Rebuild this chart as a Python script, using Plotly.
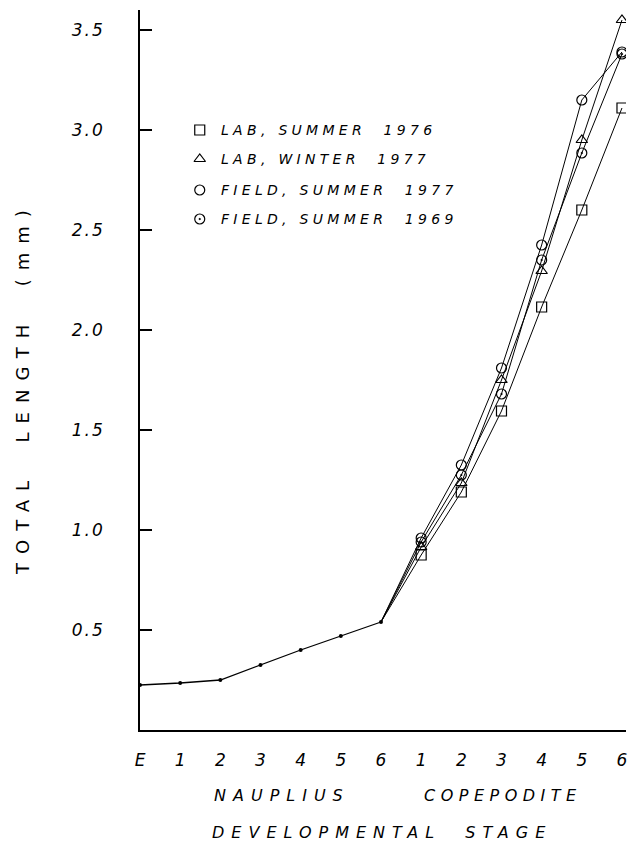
import plotly.graph_objects as go

# ---------------- data ----------------
stage_labels = ["E", "1", "2", "3", "4", "5", "6", "1", "2", "3", "4", "5", "6"]
nauplius_length = [0.225, 0.235, 0.25, 0.325, 0.40, 0.47, 0.54]          # E, N1..N6
lab_summer_1976 = [0.875, 1.19, 1.595, 2.115, 2.60, 3.11]                 # C1..C6
lab_winter_1977 = [0.915, 1.235, 1.75, 2.295, 2.95, 3.55]
field_summer_1977 = [0.96, 1.325, 1.81, 2.425, 3.15, 3.39]
field_summer_1969 = [0.94, 1.275, 1.68, 2.35, 2.885, 3.38]
series_names = ["LAB, SUMMER\u00a0 1976", "LAB, WINTER\u00a0 1977",
                "FIELD, SUMMER\u00a0 1977", "FIELD, SUMMER\u00a0 1969"]
series_values = [lab_summer_1976, lab_winter_1977, field_summer_1977, field_summer_1969]
series_symbols = ["square-open", "triangle-up-open", "circle-open", "circle-open-dot"]
y_ticks = [0.5, 1.0, 1.5, 2.0, 2.5, 3.0, 3.5]

# ---------------- geometry ----------------
W, H = 638, 846
L, R, T, B = 140, 10, 10, 116
plot_w = W - L - R
plot_h = H - T - B
X_MAX = 12.1
Y_MAX = 3.6
FONT = "DejaVu Sans"


def px_x(px):
    return (px - L) / plot_w


def px_y(py):
    return (H - B - py) / plot_h


def dx(px):
    return (px - L) / plot_w * X_MAX


def dy(py):
    return (H - B - py) / plot_h * Y_MAX


fig = go.Figure()

# nauplius (common) curve
fig.add_trace(go.Scatter(
    x=list(range(len(nauplius_length))), y=nauplius_length,
    mode="lines+markers",
    line=dict(color="black", width=1.3),
    marker=dict(color="black", size=4),
    showlegend=False, hoverinfo="skip"))

# copepodite series
cop_x = list(range(len(nauplius_length), len(nauplius_length) + 6))
for vals, sym in zip(series_values, series_symbols):
    fig.add_trace(go.Scatter(
        x=[len(nauplius_length) - 1] + cop_x, y=[nauplius_length[-1]] + vals,
        mode="lines", line=dict(color="black", width=1),
        showlegend=False, hoverinfo="skip"))
    fig.add_trace(go.Scatter(
        x=cop_x, y=vals, mode="markers",
        marker=dict(symbol=sym, size=10, color="black",
                    line=dict(color="black", width=1.2)),
        showlegend=False, hoverinfo="skip"))

# hand-drawn style legend
leg_rows = [130, 159, 190, 219]
LEG_MARK_X = 200
LEG_TEXT_X = 219
fig.add_trace(go.Scatter(
    x=[dx(LEG_MARK_X)] * 4, y=[dy(r) for r in leg_rows], mode="markers",
    marker=dict(symbol=series_symbols, size=10, color="black",
                line=dict(color="black", width=1.2)),
    showlegend=False, hoverinfo="skip"))

annotations = []
for name, r in zip(series_names, leg_rows):
    annotations.append(dict(text=name, x=px_x(LEG_TEXT_X), y=px_y(r), xref="paper", yref="paper",
                            xanchor="left", yanchor="middle", align="left", showarrow=False,
                            font=dict(family=FONT, size=14, color="black", style="italic")))
annotations.append(dict(text="NAUPLIUS", x=px_x(212), y=px_y(796), xref="paper", yref="paper",
                        xanchor="left", yanchor="middle", align="left", showarrow=False,
                        font=dict(family=FONT, size=16, color="black", style="italic")))
annotations.append(dict(text="COPEPODITE", x=px_x(423), y=px_y(796), xref="paper", yref="paper",
                        xanchor="left", yanchor="middle", align="left", showarrow=False,
                        font=dict(family=FONT, size=16, color="black", style="italic")))
annotations.append(dict(text="DEVELOPMENTAL\u00a0 STAGE", x=px_x(210), y=px_y(832), xref="paper", yref="paper",
                        xanchor="left", yanchor="middle", align="left", showarrow=False,
                        font=dict(family=FONT, size=16, color="black", style="italic")))
annotations.append(dict(text="TOTAL\u00a0 LENGTH\u00a0 (mm)", x=px_x(22), y=px_y(577), xref="paper", yref="paper",
                        xanchor="center", yanchor="bottom", align="left", showarrow=False, textangle=-90,
                        font=dict(family=FONT, size=18, color="black")))

fig.update_layout(
    width=W, height=H,
    margin=dict(l=L, r=R, t=T, b=B),
    paper_bgcolor="white", plot_bgcolor="white",
    showlegend=False,
    annotations=annotations,
    xaxis=dict(range=[0, X_MAX], tickmode="array",
               tickvals=list(range(len(stage_labels))), ticktext=stage_labels,
               showgrid=False, zeroline=False, showline=True, linecolor="black", linewidth=1.5,
               ticks="", ticklabelstandoff=14,
               tickfont=dict(family=FONT, size=17, color="black", style="italic")),
    yaxis=dict(range=[0, Y_MAX], tickmode="array", tickvals=y_ticks,
               ticktext=[f"{v:.1f}" for v in y_ticks],
               showgrid=False, zeroline=False, showline=True, linecolor="black", linewidth=1.5,
               ticks="inside", ticklen=12, tickwidth=1.5, tickcolor="black",
               ticklabelstandoff=30,
               tickfont=dict(family=FONT, size=17, color="black", style="italic")),
)

spacing_js = """
var gd = document.getElementById('{plot_id}');
var sp = [4.3, 4.3, 4.3, 4.3, 7, 5.5, 7, 9];
gd.querySelectorAll('g.annotation').forEach(function(g){
  var i = +g.getAttribute('data-index');
  var t = g.querySelector('text.annotation-text');
  if (t && sp[i] !== undefined) { t.style.letterSpacing = sp[i] + 'px'; }
});
gd.querySelectorAll('g.ytick text').forEach(function(t){ t.style.letterSpacing = '2px'; });
"""

fig.write_html("out.html", post_script=spacing_js)
